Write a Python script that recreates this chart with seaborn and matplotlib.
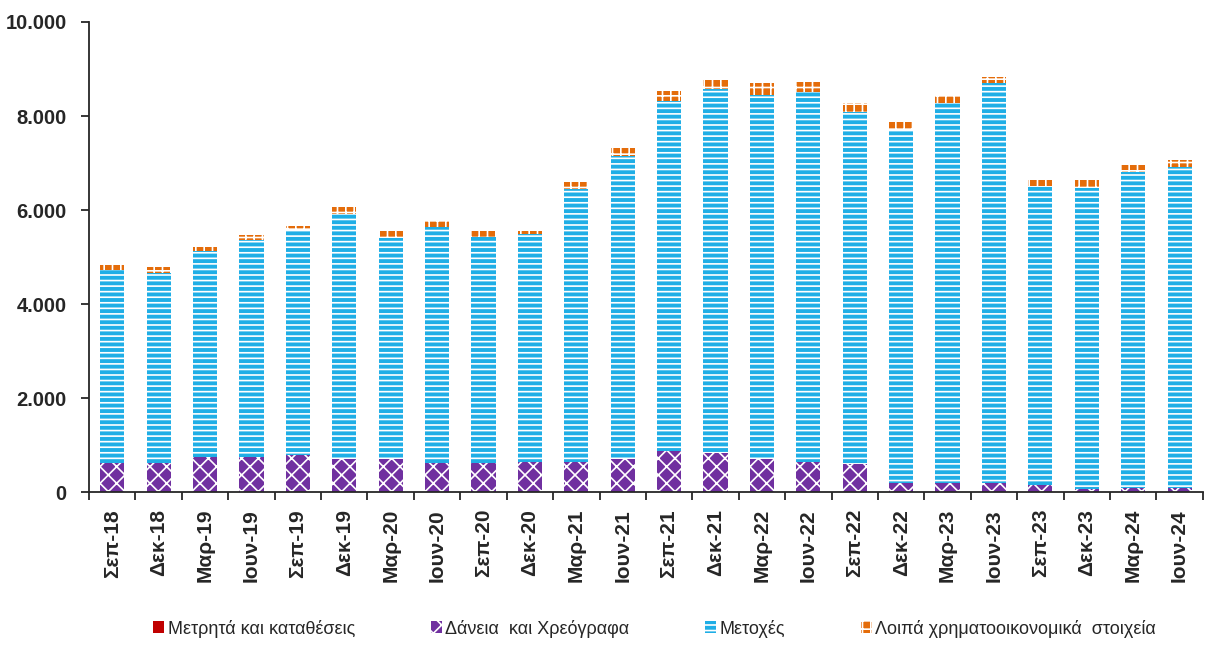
import numpy as np
import pandas as pd
import seaborn as sns
import matplotlib
import matplotlib.pyplot as plt
from matplotlib.patches import Patch
from matplotlib.ticker import FuncFormatter, FixedLocator

# Quarter labels
quarters = ['Σεπ-18', 'Δεκ-18', 'Μαρ-19', 'Ιουν-19', 'Σεπ-19', 'Δεκ-19',
            'Μαρ-20', 'Ιουν-20', 'Σεπ-20', 'Δεκ-20', 'Μαρ-21', 'Ιουν-21',
            'Σεπ-21', 'Δεκ-21', 'Μαρ-22', 'Ιουν-22', 'Σεπ-22', 'Δεκ-22',
            'Μαρ-23', 'Ιουν-23', 'Σεπ-23', 'Δεκ-23', 'Μαρ-24', 'Ιουν-24']
# Series
cash = [5, 5, 5, 5, 5, 5, 5, 5, 5, 5, 5, 5,
        5, 5, 5, 5, 5, 5, 5, 5, 5, 5, 5, 5]
loans = [615, 615, 745, 745, 795, 695, 705, 615, 615, 645, 635, 695,
         865, 825, 695, 645, 595, 195, 195, 195, 145, 65, 95, 95]
shares = [4100, 4040, 4370, 4610, 4770, 5220, 4690, 5030, 4810, 4850, 5800, 6450,
          7460, 7740, 7750, 7870, 7490, 7500, 8080, 8500, 6370, 6400, 6720, 6820]
other = [110, 120, 90, 120, 90, 140, 160, 130, 130, 60, 160, 180,
         200, 190, 260, 210, 190, 180, 150, 130, 140, 170, 140, 140]
series_names = ['Μετρητά και καταθέσεις', 'Δάνεια  και Χρεόγραφα',
                'Μετοχές', 'Λοιπά χρηματοοικονομικά  στοιχεία']

colors = ['#C00000', '#7030A0', '#1FAEE6', '#E46C0A']
hatches = ['', 'xx', '---', '++']

sns.set_style('ticks')
plt.rcParams['font.family'] = ['Liberation Sans', 'DejaVu Sans']
plt.rcParams['hatch.linewidth'] = 1.2

df = pd.DataFrame({'Quarter': quarters, 'cash': cash, 'loans': loans,
                   'shares': shares, 'other': other})
cols = ['cash', 'loans', 'shares', 'other']
cum = df[cols].cumsum(axis=1)

fig = plt.figure(figsize=(12.08, 6.46), dpi=100)
ax = fig.add_axes([0.0737, 0.238, 0.922, 0.728])

# draw from the top layer down so lower layers cover the upper stacks
for i in range(len(cols) - 1, -1, -1):
    sns.barplot(x=df['Quarter'], y=cum[cols[i]], color=colors[i], saturation=1,
                width=0.52, hatch=hatches[i], edgecolor='white', linewidth=0,
                ax=ax, order=quarters)

ax.set_ylim(0, 10000)
ax.set_xlim(-0.5, len(quarters) - 0.5)
ax.yaxis.set_major_locator(FixedLocator([0, 2000, 4000, 6000, 8000, 10000]))
ax.yaxis.set_major_formatter(FuncFormatter(lambda v, p: f'{int(v):,}'.replace(',', '.')))
ax.set_xlabel('')
ax.set_ylabel('')
for s in ['top', 'right']:
    ax.spines[s].set_visible(False)
ax.spines['left'].set_linewidth(1.3)
ax.spines['bottom'].set_linewidth(1.3)

ax.tick_params(axis='y', labelsize=14.5, length=6, width=1.3, pad=10)
ax.tick_params(axis='x', which='major', length=0, labelsize=15, pad=12)
ax.set_xticks(np.arange(len(quarters) + 1) - 0.5, minor=True)
ax.tick_params(axis='x', which='minor', length=6, width=1.3)
for lab in ax.get_yticklabels():
    lab.set_fontweight('bold')
for lab in ax.get_xticklabels():
    lab.set_rotation(90)
    lab.set_fontweight('bold')

handles = [Patch(facecolor=colors[i], hatch=hatches[i], edgecolor='white', linewidth=0)
           for i in range(4)]
fig.legend(handles, series_names, loc='lower center', bbox_to_anchor=(0.542, -0.012),
           ncol=4, frameon=False, fontsize=13, handlelength=0.6, handleheight=0.6,
           handletextpad=0.2, columnspacing=4.2)

plt.savefig('out.png', dpi=100)
